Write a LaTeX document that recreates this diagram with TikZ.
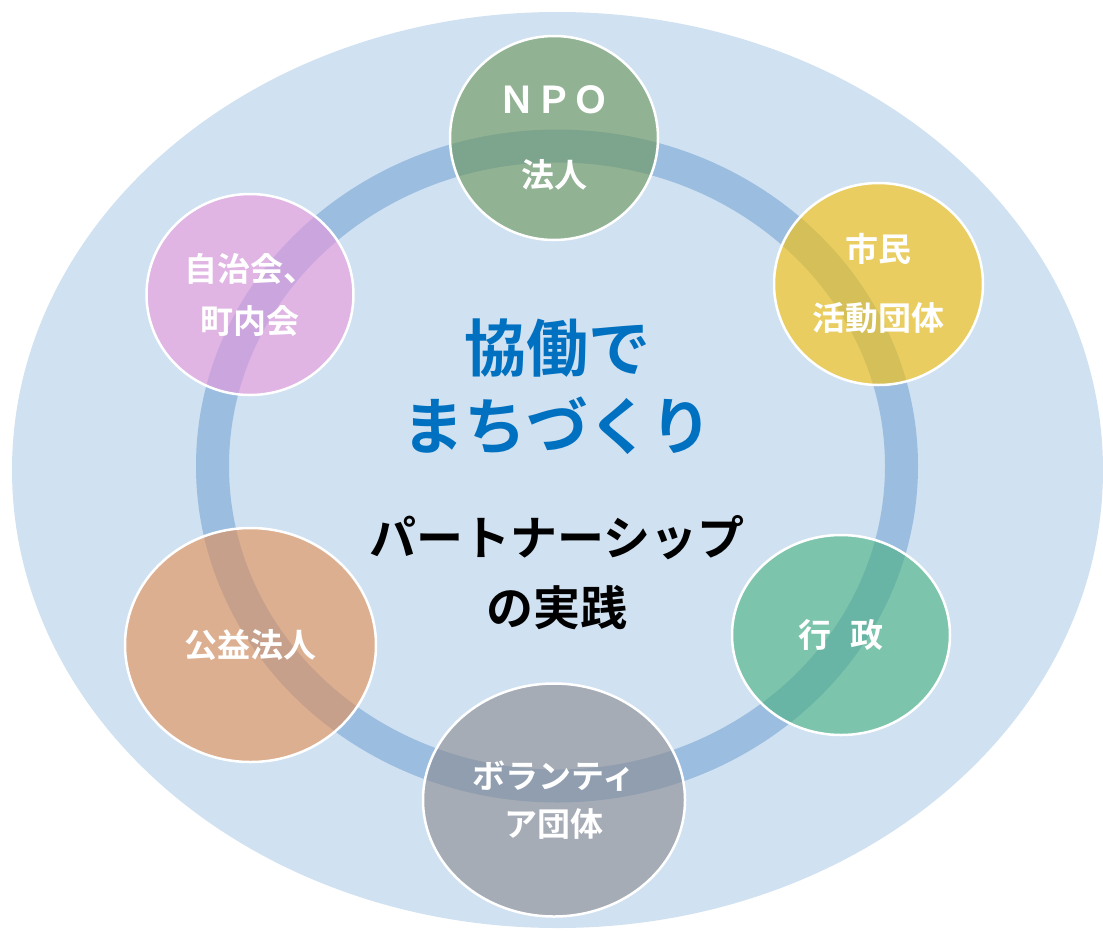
\documentclass[tikz,border=0pt]{standalone}
\usepackage{fontspec}
\newfontfamily\jp{Noto Sans CJK JP}[BoldFont={Noto Sans CJK JP Bold}]
\usetikzlibrary{shapes.geometric}
\definecolor{bgblue}{RGB}{208,225,241}
\definecolor{ringblue}{RGB}{155,189,224}
\definecolor{titleblue}{RGB}{0,112,192}
\definecolor{cnpo}{RGB}{106,148,86}
\definecolor{cshimin}{RGB}{251,193,0}
\definecolor{cjichi}{RGB}{235,150,219}
\definecolor{cgyosei}{RGB}{71,177,126}
\definecolor{ckoeki}{RGB}{228,142,81}
\definecolor{cvol}{RGB}{138,138,143}
\tikzset{
  member/.style={ellipse, inner sep=0pt, draw=white, line width=2.5pt,
    fill opacity=0.6, draw opacity=1, text opacity=1, text=white,
    align=center, font=\jp\bfseries\fontsize{33}{40}\selectfont},
}
\begin{document}
\begin{tikzpicture}[x=1pt,y=-1pt]
\useasboundingbox (0,0) rectangle (1103,930);
% background ellipse
\fill[bgblue] (557.5,470) ellipse [x radius=545.5pt, y radius=458pt];
% ring
\draw[ringblue, line width=33pt] (557,466) ellipse [x radius=344.5pt, y radius=320pt];
% member circles
\node[member, fill=cnpo, minimum width=208pt, minimum height=204pt] (npo) at (554,138)
  {{\fontsize{37}{40}\selectfont ＮＰＯ}\\[34pt]法人};
\node[member, fill=cshimin, minimum width=209pt, minimum height=202pt] (shimin) at (878.5,284)
  {市民\\[29pt]活動団体};
\node[member, fill=cjichi, minimum width=207pt, minimum height=201pt] (jichi) at (250,294.5)
  {自治会、\\[12pt]町内会};
\node[member, fill=cgyosei, minimum width=218pt, minimum height=200pt] (gyosei) at (841,635)
  {行\hspace{0.6em}政};
\node[member, fill=ckoeki, minimum width=251pt, minimum height=234pt] (koeki) at (250.5,645)
  {公益法人};
\node[member, fill=cvol, minimum width=262pt, minimum height=233pt] (vol) at (554,800)
  {ボランティ\\[8pt]ア団体};
% center texts
\node[align=center, text=titleblue, font=\jp\bfseries\fontsize{62}{78}\selectfont] (title) at (557,387)
  {協働で\\まちづくり};
\node[align=center, text=black, font=\jp\bfseries\fontsize{47}{70}\selectfont] (sub) at (557,573)
  {パートナーシップ\\の実践};
\end{tikzpicture}
\end{document}
